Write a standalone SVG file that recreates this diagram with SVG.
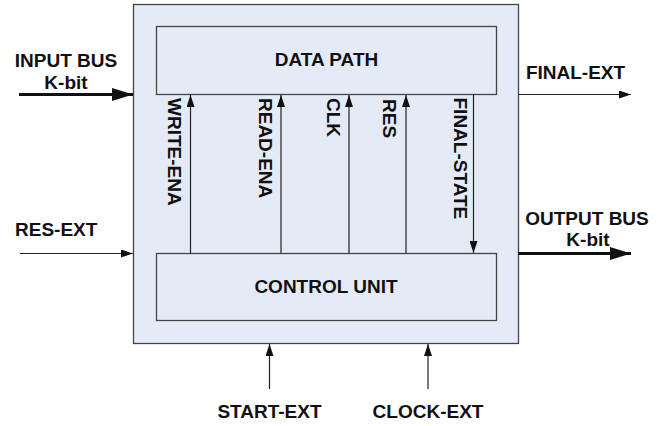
<svg xmlns="http://www.w3.org/2000/svg" width="660" height="426" viewBox="0 0 660 426">
  <style>
    .lbl { font-family: "Liberation Sans", Arial, sans-serif; font-weight: bold; font-size: 19px; fill: #111; }
    .mid { text-anchor: middle; }
    .box { fill: #E5EBF6; stroke: #444; stroke-width: 1.3; }
    .wire { fill: none; stroke: #222; stroke-width: 1.2; }
    .bus { fill: none; stroke: #111; stroke-width: 3.2; }
  </style>
  <defs>
    <marker id="arrow" viewBox="0 0 12 8" refX="12" refY="4" markerWidth="12" markerHeight="8" markerUnits="userSpaceOnUse" orient="auto">
      <path d="M0,0 L12,4 L0,8 Z" fill="#111"/>
    </marker>
    <marker id="busArrow" viewBox="0 0 21 13" refX="21" refY="6.5" markerWidth="21" markerHeight="13" markerUnits="userSpaceOnUse" orient="auto">
      <path d="M0,0 L21,6.5 L0,13 Z" fill="#111"/>
    </marker>
  </defs>

  <!-- enclosing system block -->
  <g id="system">
    <rect class="box" x="133.5" y="4.5" width="385" height="339"/>
  </g>

  <g id="data-path">
    <rect class="box" x="156.5" y="26.5" width="340" height="68"/>
    <text class="lbl mid" x="326.5" y="66">DATA PATH</text>
  </g>

  <g id="control-unit">
    <rect class="box" x="156.5" y="253.5" width="340" height="67"/>
    <text class="lbl mid" x="326" y="293">CONTROL UNIT</text>
  </g>

  <g id="connectors">
    <!-- internal control signals -->
    <line class="wire" x1="190.5" y1="253.5" x2="190.5" y2="95" marker-end="url(#arrow)"/>
    <line class="wire" x1="281" y1="253.5" x2="281" y2="95" marker-end="url(#arrow)"/>
    <line class="wire" x1="349" y1="253.5" x2="349" y2="95" marker-end="url(#arrow)"/>
    <line class="wire" x1="406" y1="253.5" x2="406" y2="95" marker-end="url(#arrow)"/>
    <line class="wire" x1="473.5" y1="94.5" x2="473.5" y2="253" marker-end="url(#arrow)"/>

    <!-- external ports -->
    <line class="bus" x1="19" y1="94.5" x2="133" y2="94.5" marker-end="url(#busArrow)"/>
    <line class="wire" x1="518.5" y1="94.5" x2="631" y2="94.5" marker-end="url(#arrow)"/>
    <line class="wire" x1="20" y1="253.5" x2="133" y2="253.5" marker-end="url(#arrow)"/>
    <line class="bus" x1="518" y1="253.5" x2="631" y2="253.5" marker-end="url(#busArrow)"/>
    <line class="wire" x1="269.5" y1="389" x2="269.5" y2="344" marker-end="url(#arrow)"/>
    <line class="wire" x1="428" y1="389" x2="428" y2="344" marker-end="url(#arrow)"/>
  </g>

  <g id="signal-labels">
    <text class="lbl" transform="translate(168,98) rotate(90)">WRITE-ENA</text>
    <text class="lbl" transform="translate(258.5,98) rotate(90)">READ-ENA</text>
    <text class="lbl" transform="translate(326.5,98) rotate(90)">CLK</text>
    <text class="lbl" transform="translate(383,99) rotate(90)">RES</text>
    <text class="lbl" transform="translate(453.5,97.5) rotate(90)">FINAL-STATE</text>
  </g>

  <g id="port-labels">
    <text class="lbl mid" x="66" y="67">INPUT BUS</text>
    <text class="lbl mid" x="66" y="89">K-bit</text>
    <text class="lbl mid" x="575.5" y="78.5">FINAL-EXT</text>
    <text class="lbl" x="15" y="236">RES-EXT</text>
    <text class="lbl mid" x="587" y="224.5">OUTPUT BUS</text>
    <text class="lbl mid" x="588" y="246">K-bit</text>
    <text class="lbl mid" x="269.5" y="418">START-EXT</text>
    <text class="lbl mid" x="428" y="418">CLOCK-EXT</text>
  </g>
</svg>
